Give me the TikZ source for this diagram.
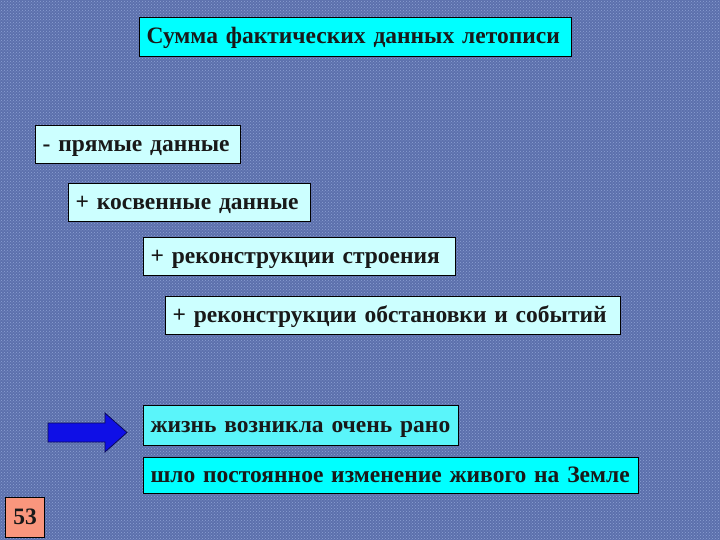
\documentclass[tikz,border=0pt]{standalone}
\usepackage{fontspec}
\setmainfont{Liberation Serif}
\usetikzlibrary{positioning,patterns}
\definecolor{fond}{RGB}{92,112,172}
\definecolor{trame}{RGB}{140,160,212}
\definecolor{cyanvif}{RGB}{0,255,255}
\definecolor{cyanclair}{RGB}{90,245,250}
\definecolor{cyanpale}{RGB}{204,255,255}
\definecolor{saumon}{RGB}{250,150,125}
\definecolor{fleche}{RGB}{15,15,230}
\definecolor{marine}{RGB}{10,10,90}
\tikzstyle{boite}=[draw=black, line width=1.2pt, anchor=north west, inner xsep=7pt, inner ysep=0pt, align=left, text height=16pt, text depth=3pt, font=\fontsize{23.5}{28}\selectfont\bfseries, text=black!90]
\tikzstyle{vive}=[boite, fill=cyanvif]
\tikzstyle{pale}=[boite, fill=cyanpale]

\begin{document}
\begin{tikzpicture}[x=1pt, y=-1pt]

% fond
\useasboundingbox (0,0) rectangle (720,540);
\fill[fond] (0,0) rectangle (720,540);
\fill[pattern=crosshatch dots, pattern color=trame] (0,0) rectangle (720,540);

% titre
\node[vive, text width=418pt, minimum height=39pt] (somme) at (139,17) {\mbox{Сумма фактических данных летописи}};

% donnees
\node[pale, text width=191pt, minimum height=38pt] (directes) at (35,125) {\mbox{- прямые данные}};
\node[pale, text width=228pt, minimum height=38pt] (indirectes) at (68,183) {\mbox{+ косвенные данные}};
\node[pale, text width=298pt, minimum height=38pt] (structure) at (143,237) {\mbox{+ реконструкции строения}};
\node[pale, text width=441pt, minimum height=38pt] (evenements) at (165,296) {\mbox{+ реконструкции обстановки и событий}};

% conclusions
\node[boite, fill=cyanclair, text width=301pt, minimum height=40pt] (tot) at (143,405) {\mbox{жизнь возникла очень рано}};
\node[vive, text width=481pt, minimum height=36pt] (changement) at (143,457) {\mbox{шло постоянное изменение живого на Земле}};

% fleche
\draw[draw=marine, fill=fleche, line width=0.8pt] (48,423) -- (105,423) -- (105,413) -- (127,432.5) -- (105,452) -- (105,442) -- (48,442) -- cycle;

% numero
\node[boite, fill=saumon, inner xsep=0pt, minimum width=39pt, minimum height=40pt, align=center] (page) at (5,497) {53};

\end{tikzpicture}
\end{document}
